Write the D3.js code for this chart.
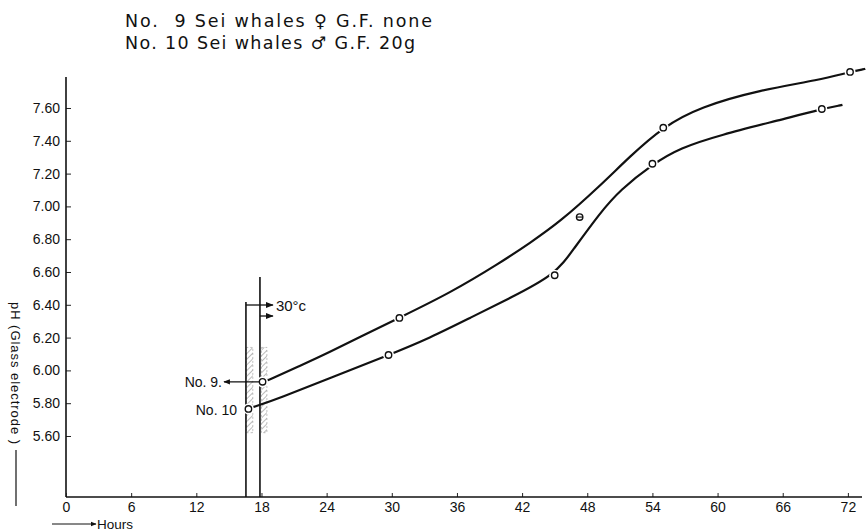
<!DOCTYPE html>
<html><head><meta charset="utf-8">
<script src="https://cdn.jsdelivr.net/npm/d3@7/dist/d3.min.js"></script>
<style>
html,body{margin:0;padding:0;background:#fff;}
svg{display:block;}
text{fill:#111;}
</style></head>
<body>
<svg id="chart" width="868" height="532"></svg>
<script>
// ---- data ----
const titleLines = ["No.  9 Sei whales \u2640 G.F. none", "No. 10 Sei whales \u2642 G.F. 20g"];
const xTickValues = [0, 6, 12, 18, 24, 30, 36, 42, 48, 54, 60, 66, 72];
const yTickValues = [5.6, 5.8, 6.0, 6.2, 6.4, 6.6, 6.8, 7.0, 7.2, 7.4, 7.6];
const xAxisLabel = "Hours";
const yAxisLabel = "pH (Glass electrode )";
const seriesNames = ["No. 9.", "No. 10"];

// measured points (hours, pH)
const no9Hours = [18.1, 30.7, 47.3, 55.0, 72.2];
const no9PH    = [5.93, 6.32, 6.935, 7.48, 7.82];
const no9Off   = [false, false, true, false, false];
const no10Hours = [16.8, 29.7, 45.0, 54.0, 69.6];
const no10PH    = [5.765, 6.094, 6.58, 7.26, 7.594];

// smoothed curves
const curve9Hours = [18.13, 18.6, 21.54, 24.31, 27.07, 30.66, 35.36, 39.96, 42.72, 45.48, 49.17, 51.93, 54.97, 58.37, 63.90, 69.42, 72.18, 73.57, 73.6];
const curve9PH    = [5.929, 5.940, 6.027, 6.112, 6.204, 6.320, 6.472, 6.655, 6.777, 6.905, 7.125, 7.305, 7.484, 7.606, 7.710, 7.771, 7.820, 7.838, 7.839];
const curve10Hours = [16.76, 17.2, 19.70, 24.31, 29.74, 33.51, 37.20, 40.88, 45.02, 46.68, 49.17, 51.01, 54.05, 56.53, 60.22, 65.74, 69.61, 71.45, 71.5];
const curve10PH    = [5.765, 5.775, 5.832, 5.954, 6.094, 6.198, 6.320, 6.441, 6.582, 6.734, 6.960, 7.100, 7.259, 7.356, 7.435, 7.527, 7.594, 7.618, 7.619];

// incubation (30°C) markers
const markerHours = [16.57, 17.86];
const markerTopPH = [6.417, 6.57];
const hatchHours = [[16.6, 17.2], [18.0, 18.5]];
const hatchPH = [5.62, 6.14];
const tempLabel = "30\u00b0c";

// ---- scales ----
const svg = d3.select("#chart");
const x = d3.scaleLinear().domain([0, 73.3]).range([66, 862]);
const y = d3.scaleLinear().domain([5.228, 7.789]).range([497, 77]);

// hatch pattern
const defs = svg.append("defs");
const pat = defs.append("pattern").attr("id", "hatch").attr("patternUnits", "userSpaceOnUse")
  .attr("width", 4).attr("height", 4).attr("patternTransform", "rotate(45)");
pat.append("line").attr("x1", 0).attr("y1", 0).attr("x2", 0).attr("y2", 4)
  .attr("stroke", "#777").attr("stroke-width", 1);
const arrow = defs.append("marker").attr("id", "arr").attr("viewBox", "0 0 10 10")
  .attr("refX", 9).attr("refY", 5).attr("markerWidth", 6).attr("markerHeight", 6)
  .attr("orient", "auto-start-reverse");
arrow.append("path").attr("d", "M0,1 L10,5 L0,9 Z").attr("fill", "#111");

// ---- title ----
svg.selectAll("text.title").data(titleLines).enter().append("text")
  .attr("class", "title")
  .attr("x", 125).attr("y", (d, i) => 27 + i * 22)
  .attr("textLength", (d, i) => i === 0 ? 307 : 290)
  .attr("lengthAdjust", "spacing")
  .style("white-space", "pre")
  .style("font-family", "'DejaVu Sans', sans-serif")
  .style("font-size", "17.5px")
  .text(d => d);

// ---- axes ----
const yAxis = d3.axisRight(y).tickValues(yTickValues).tickSize(5).tickFormat(d3.format(".2f"));
const gy = svg.append("g").attr("transform", `translate(${x(0)},0)`).call(yAxis);
gy.select(".domain").remove();
gy.selectAll("text").attr("x", -6).attr("text-anchor", "end")
  .style("font-family", "'Liberation Sans', Arial, sans-serif").style("font-size", "14px");
gy.selectAll("line").attr("stroke", "#222");
svg.append("line").attr("x1", x(0)).attr("x2", x(0)).attr("y1", y.range()[0]).attr("y2", y.range()[1])
  .attr("stroke", "#111").attr("stroke-width", 1.6);

const xAxis = d3.axisTop(x).tickValues(xTickValues).tickSize(4).tickFormat(d3.format("d"));
const gx = svg.append("g").attr("transform", `translate(0,${y(5.228)})`).call(xAxis);
gx.select(".domain").remove();
gx.selectAll("text").attr("y", 15).attr("dy", 0)
  .style("font-family", "'Liberation Sans', Arial, sans-serif").style("font-size", "14px");
gx.selectAll("line").attr("stroke", "#222");
svg.append("line").attr("x1", x(0)).attr("x2", x(73.3)).attr("y1", y(5.228)).attr("y2", y(5.228))
  .attr("stroke", "#111").attr("stroke-width", 1.6);

// axis titles
svg.append("line").attr("x1", 52).attr("x2", 96).attr("y1", 524).attr("y2", 524)
  .attr("stroke", "#111").attr("stroke-width", 1).attr("marker-end", "url(#arr)");
svg.append("text").attr("x", 97).attr("y", 529).text(xAxisLabel)
  .style("font-family", "'Liberation Sans', Arial, sans-serif").style("font-size", "13.5px");

svg.append("text").attr("transform", "translate(11,302) rotate(90)")
  .attr("textLength", 142).attr("lengthAdjust", "spacing")
  .text(yAxisLabel)
  .style("font-family", "'Liberation Sans', Arial, sans-serif").style("font-size", "13px");
svg.append("line").attr("x1", 16).attr("x2", 16).attr("y1", 450).attr("y2", 506)
  .attr("stroke", "#111").attr("stroke-width", 1.2);

// ---- incubation markers ----
svg.selectAll("rect.hatch").data(hatchHours).enter().append("rect")
  .attr("class", "hatch")
  .attr("x", d => x(d[0])).attr("width", d => x(d[1]) - x(d[0]))
  .attr("y", y(hatchPH[1])).attr("height", y(hatchPH[0]) - y(hatchPH[1]))
  .attr("fill", "url(#hatch)").attr("stroke", "#999").attr("stroke-width", 0.6)
  .attr("stroke-dasharray", "2,2");

svg.selectAll("line.marker").data(markerHours).enter().append("line")
  .attr("class", "marker")
  .attr("x1", d => x(d)).attr("x2", d => x(d))
  .attr("y1", (d, i) => y(markerTopPH[i])).attr("y2", y(5.228))
  .attr("stroke", "#111").attr("stroke-width", 1.6);

// 30°c bracket arrows
const brY1 = y(markerTopPH[0]) + 3;
svg.append("line").attr("x1", x(markerHours[0])).attr("x2", x(markerHours[1]) + 13)
  .attr("y1", brY1).attr("y2", brY1).attr("stroke", "#111").attr("stroke-width", 1.3)
  .attr("marker-end", "url(#arr)");
svg.append("line").attr("x1", x(markerHours[1])).attr("x2", x(markerHours[1]) + 13)
  .attr("y1", brY1 + 11).attr("y2", brY1 + 11).attr("stroke", "#111").attr("stroke-width", 1.3)
  .attr("marker-end", "url(#arr)");
svg.append("text").attr("x", x(markerHours[1]) + 16).attr("y", brY1 + 6).text(tempLabel)
  .style("font-family", "'Liberation Sans', Arial, sans-serif").style("font-size", "15px");

// ---- curves ----
const line = d3.line().x(d => x(d[0])).y(d => y(d[1])).curve(d3.curveBasis);
const curves = [d3.zip(curve9Hours, curve9PH), d3.zip(curve10Hours, curve10PH)];
svg.selectAll("path.curve").data(curves).enter().append("path")
  .attr("class", "curve").attr("d", line)
  .attr("fill", "none").attr("stroke", "#111").attr("stroke-width", 2.2);

// ---- points ----
const pts = [
  ...no9Hours.map((h, i) => ({h, p: no9PH[i], off: no9Off[i]})),
  ...no10Hours.map((h, i) => ({h, p: no10PH[i], off: false}))
];
svg.selectAll("circle.halo").data(pts).enter().append("circle")
  .attr("class", "halo").attr("cx", d => x(d.h)).attr("cy", d => y(d.p)).attr("r", 5.5)
  .attr("fill", "#fff");
svg.selectAll("circle.pt").data(pts).enter().append("circle")
  .attr("class", "pt").attr("cx", d => x(d.h)).attr("cy", d => y(d.p)).attr("r", 3.2)
  .attr("fill", "#fff").attr("stroke", "#111").attr("stroke-width", 1.4);
svg.selectAll("line.off").data(pts.filter(d => d.off)).enter().append("line")
  .attr("class", "off").attr("x1", d => x(d.h) - 3).attr("x2", d => x(d.h) + 3)
  .attr("y1", d => y(d.p)).attr("y2", d => y(d.p)).attr("stroke", "#111").attr("stroke-width", 1.2);

// ---- series labels ----
const firstPts = [[no9Hours[0], no9PH[0]], [no10Hours[0], no10PH[0]]];
svg.append("line").attr("x1", x(markerHours[1])).attr("x2", 224)
  .attr("y1", y(firstPts[0][1])).attr("y2", y(firstPts[0][1]))
  .attr("stroke", "#111").attr("stroke-width", 1.1).attr("marker-end", "url(#arr)");
svg.append("text").attr("x", 222).attr("y", y(firstPts[0][1]) + 5).attr("text-anchor", "end")
  .text(seriesNames[0])
  .style("font-family", "'Liberation Sans', Arial, sans-serif").style("font-size", "14px");
svg.append("text").attr("x", 237).attr("y", y(firstPts[1][1]) + 6).attr("text-anchor", "end")
  .text(seriesNames[1])
  .style("font-family", "'Liberation Sans', Arial, sans-serif").style("font-size", "14px");
</script>
</body></html>
